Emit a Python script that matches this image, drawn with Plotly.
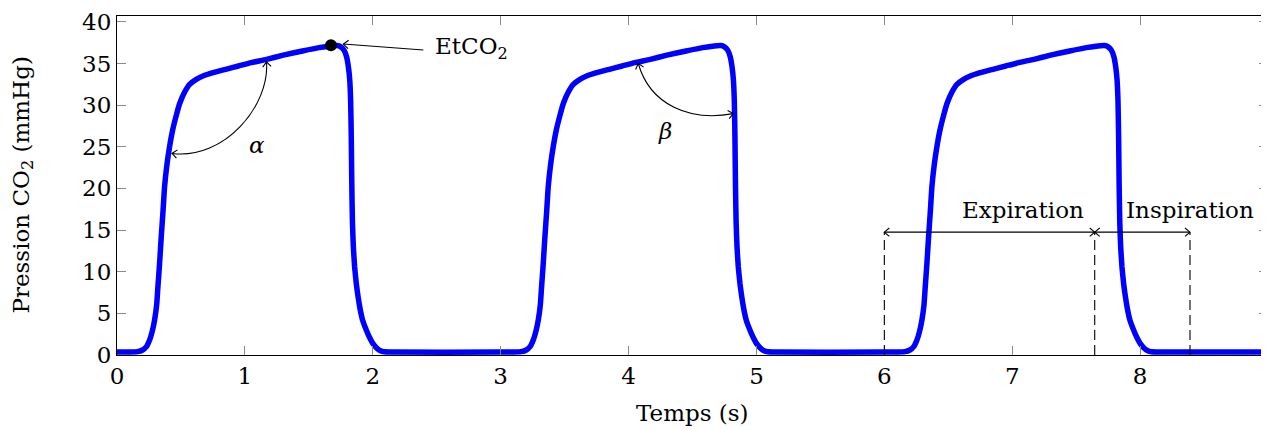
import math
import plotly.graph_objects as go

# Capnogram: three breaths, CO2 partial pressure
breath1_t = [0.00, 0.10, 0.16, 0.20, 0.23, 0.255, 0.275, 0.294, 0.31, 0.32, 0.333, 0.346, 0.36, 0.372,
             0.39, 0.411, 0.435, 0.464, 0.49, 0.53, 0.568, 0.62, 0.672, 0.75, 0.85, 0.95, 1.05, 1.17,
             1.30, 1.45, 1.58, 1.67, 1.72, 1.75, 1.775, 1.795, 1.81, 1.82, 1.827, 1.832, 1.836, 1.841,
             1.848, 1.858, 1.871, 1.885, 1.90, 1.92, 1.949, 1.975, 2.00, 2.03, 2.06, 2.09, 2.15, 2.99]
breath2_t = [3.00, 3.10, 3.16, 3.20, 3.23, 3.255, 3.275, 3.294, 3.31, 3.32, 3.333, 3.346, 3.36, 3.372,
             3.39, 3.411, 3.435, 3.464, 3.49, 3.53, 3.568, 3.62, 3.672, 3.75, 3.85, 3.95, 4.05, 4.17,
             4.30, 4.45, 4.58, 4.67, 4.72, 4.75, 4.775, 4.795, 4.81, 4.82, 4.827, 4.832, 4.836, 4.841,
             4.848, 4.858, 4.871, 4.885, 4.90, 4.92, 4.949, 4.975, 5.00, 5.03, 5.06, 5.09, 5.15, 5.99]
breath3_t = [6.00, 6.10, 6.16, 6.20, 6.23, 6.255, 6.275, 6.294, 6.31, 6.32, 6.333, 6.346, 6.36, 6.372,
             6.39, 6.411, 6.435, 6.464, 6.49, 6.53, 6.568, 6.62, 6.672, 6.75, 6.85, 6.95, 7.05, 7.17,
             7.30, 7.45, 7.58, 7.67, 7.72, 7.75, 7.775, 7.795, 7.81, 7.82, 7.827, 7.832, 7.836, 7.841,
             7.848, 7.858, 7.871, 7.885, 7.90, 7.92, 7.949, 7.975, 8.00, 8.03, 8.06, 8.09, 8.15, 9.00]

breath1_co2 = [0.35, 0.35, 0.40, 0.60, 1.0, 1.8, 2.8, 4.2, 6.0, 8.2, 11.0, 14.2, 17.3, 20.2,
               22.8, 25.0, 27.0, 28.8, 30.2, 31.6, 32.5, 33.1, 33.5, 33.9, 34.3, 34.7, 35.1, 35.5,
               36.0, 36.5, 36.9, 37.1, 37.15, 37.0, 36.6, 35.8, 34.5, 33.0, 30.5, 26.0, 20.5, 16.0,
               13.0, 10.6, 8.6, 7.0, 5.6, 4.2, 3.0, 2.1, 1.4, 0.85, 0.5, 0.38, 0.35, 0.35]
breath2_co2 = [0.35, 0.35, 0.40, 0.60, 1.0, 1.8, 2.8, 4.2, 6.0, 8.2, 11.0, 14.2, 17.3, 20.2,
               22.8, 25.0, 27.0, 28.8, 30.2, 31.6, 32.5, 33.1, 33.5, 33.9, 34.3, 34.7, 35.1, 35.5,
               36.0, 36.5, 36.9, 37.1, 37.15, 37.0, 36.6, 35.8, 34.5, 33.0, 30.5, 26.0, 20.5, 16.0,
               13.0, 10.6, 8.6, 7.0, 5.6, 4.2, 3.0, 2.1, 1.4, 0.85, 0.5, 0.38, 0.35, 0.35]
breath3_co2 = [0.35, 0.35, 0.40, 0.60, 1.0, 1.8, 2.8, 4.2, 6.0, 8.2, 11.0, 14.2, 17.3, 20.2,
               22.8, 25.0, 27.0, 28.8, 30.2, 31.6, 32.5, 33.1, 33.5, 33.9, 34.3, 34.7, 35.1, 35.5,
               36.0, 36.5, 36.9, 37.1, 37.15, 37.0, 36.6, 35.8, 34.5, 33.0, 30.5, 26.0, 20.5, 16.0,
               13.0, 10.6, 8.6, 7.0, 5.6, 4.2, 3.0, 2.1, 1.4, 0.85, 0.5, 0.38, 0.35, 0.35]

# End-tidal CO2 point
etco2_point = (1.673, 37.2)

# Phase boundaries (s) and the height of the phase arrows (mmHg)
expiration_start = 6.0
expiration_end = 7.645
inspiration_end = 8.39
phase_arrow_level = 14.75

x_ticks = [0, 1, 2, 3, 4, 5, 6, 7, 8, 9]
y_ticks = [0, 5, 10, 15, 20, 25, 30, 35, 40]

X_RANGE = [0, 9]
Y_RANGE = [0, 40.7]
# the page body keeps its default 8px margin, so the figure is 8px smaller
W, H = 1261, 422
M = dict(l=109, r=1, t=8, b=75)
FONT = "DejaVu Serif"
INK = "black"

# pixel per data unit, used to draw arrowheads with a fixed on-screen size
kx = (W - M["l"] - M["r"]) / (X_RANGE[1] - X_RANGE[0])
ky = (H - M["t"] - M["b"]) / (Y_RANGE[1] - Y_RANGE[0])


def chevron(tip, frm, size=6.5, angle=40):
    """Open "->" arrowhead at tip, coming from frm (data coords)."""
    dx = (tip[0] - frm[0]) * kx
    dy = (tip[1] - frm[1]) * ky
    n = math.hypot(dx, dy)
    ux, uy = -dx / n, -dy / n
    pts = []
    for s in (1, -1):
        a = math.radians(angle) * s
        rx = ux * math.cos(a) - uy * math.sin(a)
        ry = ux * math.sin(a) + uy * math.cos(a)
        pts.append((tip[0] + rx * size / kx, tip[1] + ry * size / ky))
    path = f"M {pts[0][0]},{pts[0][1]} L {tip[0]},{tip[1]} L {pts[1][0]},{pts[1][1]}"
    return dict(type="path", path=path, xref="x", yref="y",
                line=dict(color=INK, width=1.1))


def curve(p0, c1, c2, p1):
    path = f"M {p0[0]},{p0[1]} C {c1[0]},{c1[1]} {c2[0]},{c2[1]} {p1[0]},{p1[1]}"
    return dict(type="path", path=path, xref="x", yref="y",
                line=dict(color=INK, width=1.1))


def seg(p0, p1, dash="solid"):
    return dict(type="line", x0=p0[0], y0=p0[1], x1=p1[0], y1=p1[1], xref="x", yref="y",
                line=dict(color=INK, width=1.1, dash=dash))


fig = go.Figure()

# one continuous trace for the whole recording
time_s = breath1_t + breath2_t + breath3_t
co2_mmhg = breath1_co2 + breath2_co2 + breath3_co2
fig.add_trace(go.Scatter(x=time_s, y=co2_mmhg, mode="lines",
                         line=dict(color="#0000ff", width=5.5, shape="spline", smoothing=0.5),
                         hoverinfo="skip"))

fig.add_trace(go.Scatter(x=[etco2_point[0]], y=[etco2_point[1]], mode="markers",
                         marker=dict(color="black", size=12), hoverinfo="skip"))

shapes = []

# alpha: angle between upstroke and plateau
a_s, a_c1, a_c2, a_e = (0.43, 24.2), (0.844, 23.4), (1.196, 30.0), (1.169, 35.2)
shapes += [curve(a_s, a_c1, a_c2, a_e), chevron(a_s, a_c1), chevron(a_e, a_c2)]

# beta: angle between plateau and downstroke
b_s, b_c1, b_c2, b_e = (4.076, 35.0), (4.168, 30.0), (4.481, 28.0), (4.819, 28.98)
shapes += [curve(b_s, b_c1, b_c2, b_e), chevron(b_s, b_c1), chevron(b_e, b_c2)]

# EtCO2 pointer
e_from, e_tip = (2.395, 36.61), (1.77, 37.33)
shapes += [seg(e_from, e_tip), chevron(e_tip, e_from)]

# expiration / inspiration brackets
lvl = phase_arrow_level
for x in (expiration_start, expiration_end, inspiration_end):
    shapes.append(seg((x, 0), (x, lvl), dash="10px,5px"))
shapes += [seg((expiration_start, lvl), (expiration_end, lvl)),
           chevron((expiration_start, lvl), (expiration_end, lvl)),
           chevron((expiration_end, lvl), (expiration_start, lvl)),
           seg((expiration_end, lvl), (inspiration_end, lvl)),
           chevron((expiration_end, lvl), (inspiration_end, lvl)),
           chevron((inspiration_end, lvl), (expiration_end, lvl))]

annotations = [
    dict(x=1.095, y=25.2, text="<i>α</i>", showarrow=False),
    dict(x=4.285, y=26.9, text="<i>β</i>", showarrow=False),
    dict(x=2.47, y=36.9, text="EtCO<sub>2</sub>", showarrow=False, xanchor="left"),
    dict(x=7.082, y=17.4, text="Expiration", showarrow=False),
    dict(x=8.39, y=17.4, text="Inspiration", showarrow=False),
    # axis titles
    dict(x=0.5, y=-0.171, xref="paper", yref="paper", text="Temps (s)", showarrow=False,
         yanchor="middle"),
    dict(x=-0.0825, y=0.5, xref="paper", yref="paper", text="Pression CO<sub>2</sub> (mmHg)",
         showarrow=False, textangle=-90, xanchor="center", yanchor="middle"),
]
for a in annotations:
    a.setdefault("xref", "x")
    a.setdefault("yref", "y")

axis_style = dict(showline=True, linecolor=INK, linewidth=1.1, mirror="allticks",
                  ticks="inside", ticklen=9, tickcolor="#8a8a8a", tickwidth=1,
                  showgrid=False, zeroline=False, automargin=False,
                  ticklabeloverflow="allow")

fig.update_xaxes(range=X_RANGE, tickvals=x_ticks, **axis_style)
fig.update_yaxes(range=Y_RANGE, tickvals=y_ticks, **axis_style)

fig.update_layout(width=W, height=H, margin=M,
                  plot_bgcolor="white", paper_bgcolor="white",
                  showlegend=False,
                  font=dict(family=FONT, size=23, color=INK),
                  shapes=shapes, annotations=annotations)

fig.write_html("out.html")
